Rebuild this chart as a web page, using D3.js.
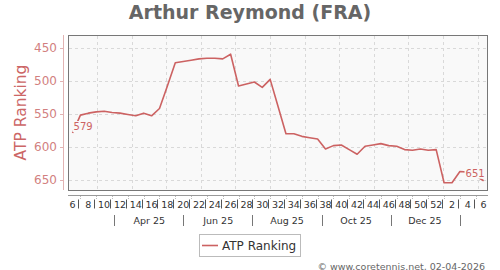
<!DOCTYPE html>
<html>
<head>
<meta charset="utf-8">
<script src="https://cdn.jsdelivr.net/npm/d3@7"></script>
<style>
  body { margin: 0; background: #fff; }
  text { font-family: "DejaVu Sans", Verdana, sans-serif; }
</style>
</head>
<body>
<div id="chart"></div>
<script>
// ISO week numbers of each ranking (Feb 2025 -> Feb 2026)
var weeks = [6, 7, 8, 9, 10, 11, 12, 13, 14, 15, 16, 17, 18, 19, 20, 21, 22, 23, 24, 25,
  26, 27, 28, 29, 30, 31, 32, 33, 34, 35, 36, 37, 38, 39, 40, 41, 42, 43, 44, 45,
  46, 47, 48, 49, 50, 51, 52, 1, 2, 3, 4, 5, 6];
// ATP ranking each week
var ranking = [579, 552, 549, 547, 546, 548, 549, 551, 553, 549, 553, 542, 508, 473, 471, 469, 467, 466, 466, 467,
  460, 508, 505, 502, 510, 498, 539, 580, 580, 584, 586, 588, 603, 598, 597, 604, 611, 599, 597, 595,
  598, 599, 604, 605, 603, 605, 604, 654, 654, 637, 638, 644, 651];
var yTicks = [450, 500, 550, 600, 650];
var monthLabels = ["Apr 25", "Jun 25", "Aug 25", "Oct 25", "Dec 25"];
var monthCenters = ["2025-04-16", "2025-06-16", "2025-08-16", "2025-10-16", "2025-12-16"];
var monthSeps = ["2025-03-16", "2025-05-16", "2025-07-16", "2025-09-16", "2025-11-16", "2026-01-16"];
var firstDate = "2025-02-07";

var W = 500, H = 270;
var plot = {left: 68, top: 35, right: 487, bottom: 190};
var lineColor = "#cc6262";
var plotBg = "#f9f9f9";

var parse = d3.timeParse("%Y-%m-%d");
var start = parse(firstDate);
var data = ranking.map(function(r, i) {
  return {date: d3.timeDay.offset(start, i * 7), rank: r, week: weeks[i], i: i};
});

var svg = d3.select("#chart").append("svg")
  .attr("width", W).attr("height", H);

var x = d3.scaleTime()
  .domain([d3.timeDay.offset(data[0].date, -4), d3.timeDay.offset(data[data.length - 1].date, 3)])
  .range([plot.left, plot.right]);
var y = d3.scaleLinear().domain([431, 665]).range([plot.top, plot.bottom]);

// title
svg.append("text")
  .attr("x", W / 2).attr("y", 19)
  .attr("text-anchor", "middle")
  .style("font-size", "19px").style("font-weight", "bold")
  .style("fill", "#666")
  .text("Arthur Reymond (FRA)");

// plot background
svg.append("rect")
  .attr("x", plot.left + 0.5).attr("y", plot.top + 0.5)
  .attr("width", plot.right - plot.left).attr("height", plot.bottom - plot.top)
  .attr("fill", plotBg).attr("stroke", "#777").attr("stroke-width", 1);

// grid
var grid = svg.append("g").attr("stroke", "#d9d9d9").attr("stroke-dasharray", "3,3");
grid.selectAll("line.h").data(yTicks).enter().append("line")
  .attr("x1", plot.left + 1).attr("x2", plot.right)
  .attr("y1", function(d) { return Math.round(y(d)) + 0.5; })
  .attr("y2", function(d) { return Math.round(y(d)) + 0.5; });
var months = d3.timeMonth.range(d3.timeMonth.ceil(x.domain()[0]), x.domain()[1]);
grid.selectAll("line.v").data(months).enter().append("line")
  .attr("x1", function(d) { return Math.round(x(d)) + 0.5; })
  .attr("x2", function(d) { return Math.round(x(d)) + 0.5; })
  .attr("y1", plot.top + 1).attr("y2", plot.bottom);

// y axis
var yAxis = svg.append("g");
yAxis.append("line")
  .attr("x1", 63.5).attr("x2", 63.5).attr("y1", plot.top).attr("y2", plot.bottom)
  .attr("stroke", "#e2b3b3");
yAxis.selectAll("line.t").data(yTicks).enter().append("line")
  .attr("x1", 60).attr("x2", 63)
  .attr("y1", function(d) { return Math.round(y(d)) + 0.5; })
  .attr("y2", function(d) { return Math.round(y(d)) + 0.5; })
  .attr("stroke", "#e2b3b3");
yAxis.selectAll("text").data(yTicks).enter().append("text")
  .attr("x", 57).attr("y", function(d) { return y(d); })
  .attr("dy", "0.35em").attr("text-anchor", "end")
  .style("font-size", "12px").style("fill", "#d27f7f")
  .text(function(d) { return d; });
svg.append("text")
  .attr("transform", "translate(26," + ((plot.top + plot.bottom) / 2) + ") rotate(-90)")
  .attr("text-anchor", "middle")
  .style("font-size", "15.5px").style("fill", "#cc6666")
  .text("ATP Ranking");

// x axis
var xAxis = svg.append("g");
xAxis.append("line")
  .attr("x1", plot.left).attr("x2", plot.right + 1).attr("y1", 195.5).attr("y2", 195.5)
  .attr("stroke", "#999");
var odd = data.filter(function(d) { return d.i % 2 == 1; });
var even = data.filter(function(d) { return d.i % 2 == 0; });
xAxis.selectAll("line.tick").data(odd).enter().append("line")
  .attr("x1", function(d) { return Math.round(x(d.date)) + 0.5; })
  .attr("x2", function(d) { return Math.round(x(d.date)) + 0.5; })
  .attr("y1", 196).attr("y2", 199)
  .attr("stroke", "#bbb").attr("stroke-dasharray", "1,1");
xAxis.selectAll("line.sep").data(odd).enter().append("line")
  .attr("x1", function(d) { return Math.round(x(d.date)) - 1.5; })
  .attr("x2", function(d) { return Math.round(x(d.date)) - 1.5; })
  .attr("y1", 199.5).attr("y2", 208.5)
  .attr("stroke", "#555");
xAxis.selectAll("text.wk").data(even).enter().append("text")
  .attr("x", function(d) { return x(d.date); }).attr("y", 208)
  .attr("text-anchor", "middle")
  .style("font-size", "9.5px").style("fill", "#333")
  .text(function(d) { return d.week; });
xAxis.selectAll("line.msep").data(monthSeps).enter().append("line")
  .attr("x1", function(d) { return Math.round(x(parse(d))) + 0.5; })
  .attr("x2", function(d) { return Math.round(x(parse(d))) + 0.5; })
  .attr("y1", 215).attr("y2", 226)
  .attr("stroke", "#777");
xAxis.selectAll("text.mo").data(monthLabels).enter().append("text")
  .attr("x", function(d, i) { return x(parse(monthCenters[i])); }).attr("y", 224)
  .attr("text-anchor", "middle")
  .style("font-size", "9.5px").style("fill", "#333")
  .text(function(d) { return d; });

// ranking line
var line = d3.line()
  .x(function(d) { return x(d.date); })
  .y(function(d) { return y(d.rank); });
svg.append("path").datum(data)
  .attr("d", line)
  .attr("fill", "none").attr("stroke", lineColor).attr("stroke-width", 1.6)
  .attr("stroke-linejoin", "round");

// first / last value labels with plot-coloured box
var ends = [
  {d: data[0], anchor: "start", dx: 1, dy: -3},
  {d: data[data.length - 1], anchor: "end", dx: 1, dy: -4}
];
ends.forEach(function(e) {
  var g = svg.append("g");
  var t = g.append("text")
    .attr("x", x(e.d.date) + e.dx).attr("y", y(e.d.rank) + e.dy)
    .attr("text-anchor", e.anchor)
    .style("font-size", "10px").style("fill", lineColor)
    .text(e.d.rank);
  var b = t.node().getBBox();
  g.insert("rect", "text")
    .attr("x", b.x - 1).attr("y", b.y).attr("width", b.width + 2).attr("height", b.height)
    .attr("fill", plotBg);
});

// legend
var leg = svg.append("g");
leg.append("rect")
  .attr("x", 199.5).attr("y", 234.5).attr("width", 101).attr("height", 22)
  .attr("fill", "#fff").attr("stroke", "#bbb");
leg.append("line")
  .attr("x1", 202).attr("x2", 218).attr("y1", 245.5).attr("y2", 245.5)
  .attr("stroke", lineColor).attr("stroke-width", 1.6);
leg.append("text")
  .attr("x", 222).attr("y", 249.5)
  .style("font-size", "12px").style("fill", "#333")
  .text("ATP Ranking");

// footer
svg.append("text")
  .attr("x", 485).attr("y", 269.5).attr("text-anchor", "end")
  .style("font-size", "9.5px").style("fill", "#666")
  .text("\u00a9 www.coretennis.net, 02-04-2026");
</script>
</body>
</html>
